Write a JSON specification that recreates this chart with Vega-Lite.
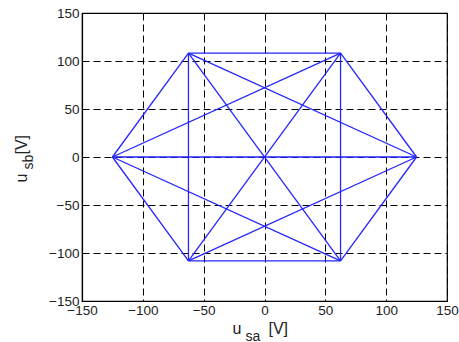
{
  "$schema": "https://vega.github.io/schema/vega-lite/v6.json",
  "width": 365,
  "height": 288,
  "autosize": {"type": "none"},
  "padding": {"left": 82, "top": 13, "right": 12, "bottom": 41},
  "background": "white",
  "config": {
    "view": {"stroke": "black", "strokeWidth": 1.2},
    "axis": {
      "labelFont": "Liberation Sans",
      "titleFont": "Liberation Sans",
      "labelFontSize": 13.5,
      "labelColor": "#222",
      "titleColor": "#222",
      "titleFontWeight": "normal",
      "domainColor": "black",
      "domainWidth": 1.2,
      "ticks": false,
      "gridColor": "black",
      "gridOpacity": 1,
      "gridDash": [7, 4],
      "gridWidth": 1
    }
  },
  "data": {
    "values": [
      {"x": 125, "y": 0, "x2": 62.5, "y2": 108.25},
      {"x": 62.5, "y": 108.25, "x2": -62.5, "y2": 108.25},
      {"x": -62.5, "y": 108.25, "x2": -125, "y2": 0},
      {"x": -125, "y": 0, "x2": -62.5, "y2": -108.25},
      {"x": -62.5, "y": -108.25, "x2": 62.5, "y2": -108.25},
      {"x": 62.5, "y": -108.25, "x2": 125, "y2": 0},
      {"x": -125, "y": 0, "x2": 125, "y2": 0},
      {"x": -62.5, "y": 108.25, "x2": 62.5, "y2": -108.25},
      {"x": 62.5, "y": 108.25, "x2": -62.5, "y2": -108.25},
      {"x": -62.5, "y": 108.25, "x2": -62.5, "y2": -108.25},
      {"x": -62.5, "y": 108.25, "x2": 125, "y2": 0},
      {"x": -62.5, "y": -108.25, "x2": 125, "y2": 0},
      {"x": 62.5, "y": 108.25, "x2": 62.5, "y2": -108.25},
      {"x": 62.5, "y": 108.25, "x2": -125, "y2": 0},
      {"x": 62.5, "y": -108.25, "x2": -125, "y2": 0}
    ]
  },
  "resolve": {"axis": {"x": "independent", "y": "independent"}},
  "layer": [
    {
      "mark": {"type": "rule", "color": "#2525ff", "strokeWidth": 1.3},
      "encoding": {
        "x": {
          "field": "x", "type": "quantitative",
          "scale": {"domain": [-150, 150], "nice": false},
          "axis": {
            "orient": "bottom",
            "values": [-150, -100, -50, 0, 50, 100, 150],
            "grid": true, "labelPadding": 2, "labelFlush": false,
            "title": "u", "titleFontSize": 16,
            "titleX": 150, "titleY": 32, "titleAlign": "left", "titleBaseline": "alphabetic"
          }
        },
        "y": {
          "field": "y", "type": "quantitative",
          "scale": {"domain": [-150, 150], "nice": false},
          "axis": {
            "orient": "left",
            "values": [-150, -100, -50, 0, 50, 100, 150],
            "grid": true, "labelPadding": 3, "labelFlush": false,
            "title": "u", "titleFontSize": 16, "titleAngle": 270,
            "titleX": -56, "titleY": 169, "titleAlign": "left", "titleBaseline": "alphabetic"
          }
        },
        "x2": {"field": "x2"},
        "y2": {"field": "y2"}
      }
    },
    {
      "mark": {"type": "rule", "opacity": 0},
      "encoding": {
        "x": {
          "field": "x", "type": "quantitative",
          "scale": {"domain": [-150, 150], "nice": false},
          "axis": {
            "orient": "bottom", "labels": false, "domain": false, "grid": false,
            "title": "sa", "titleFontSize": 14,
            "titleX": 163, "titleY": 39, "titleAlign": "left", "titleBaseline": "alphabetic"
          }
        },
        "y": {
          "field": "y", "type": "quantitative",
          "scale": {"domain": [-150, 150], "nice": false},
          "axis": {
            "orient": "left", "labels": false, "domain": false, "grid": false,
            "title": "sb", "titleFontSize": 14, "titleAngle": 270,
            "titleX": -50, "titleY": 156, "titleAlign": "left", "titleBaseline": "alphabetic"
          }
        },
        "x2": {"field": "x2"},
        "y2": {"field": "y2"}
      }
    },
    {
      "mark": {"type": "rule", "opacity": 0},
      "encoding": {
        "x": {
          "field": "x", "type": "quantitative",
          "scale": {"domain": [-150, 150], "nice": false},
          "axis": {
            "orient": "bottom", "labels": false, "domain": false, "grid": false,
            "title": "[V]", "titleFontSize": 16,
            "titleX": 186, "titleY": 32, "titleAlign": "left", "titleBaseline": "alphabetic"
          }
        },
        "y": {
          "field": "y", "type": "quantitative",
          "scale": {"domain": [-150, 150], "nice": false},
          "axis": {
            "orient": "left", "labels": false, "domain": false, "grid": false,
            "title": "[V]", "titleFontSize": 16, "titleAngle": 270,
            "titleX": -56, "titleY": 141, "titleAlign": "left", "titleBaseline": "alphabetic"
          }
        },
        "x2": {"field": "x2"},
        "y2": {"field": "y2"}
      }
    }
  ]
}
